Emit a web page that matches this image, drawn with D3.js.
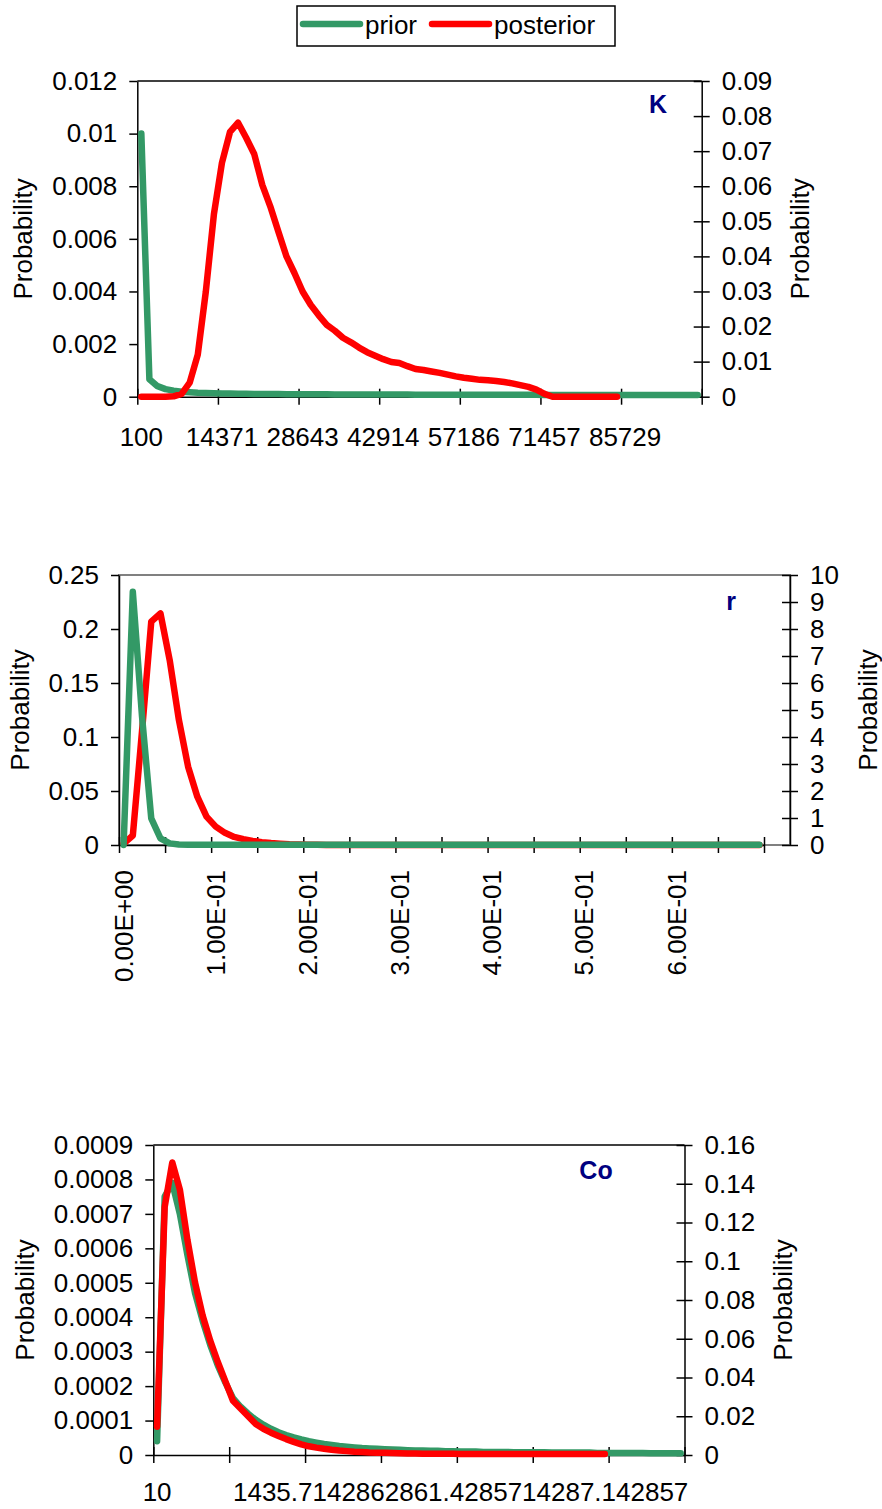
<!DOCTYPE html>
<html>
<head>
<meta charset="utf-8">
<script src="https://cdn.jsdelivr.net/npm/d3@7"></script>
<style>
  body { margin: 0; background: #fff; }
  svg { display: block; font-family: "Liberation Sans", Arial, sans-serif; }
</style>
</head>
<body>
<svg></svg>
<script>
// 70 categories per chart, ticks every 10
var nCats = 70;

// K panel
var kLabels = ['100', '14371', '28643', '42914', '57186', '71457', '85729'];
var kLeftTicks = [0, 0.002, 0.004, 0.006, 0.008, 0.01, 0.012];
var kRightTicks = [0, 0.01, 0.02, 0.03, 0.04, 0.05, 0.06, 0.07, 0.08, 0.09];
var kPrior = [
  0.0100, 0.00066, 0.00040, 0.00029, 0.00023, 0.00019, 0.00017, 0.00015, 0.00014, 0.00013,
  0.00012, 0.00012, 0.00011, 0.00011, 0.00010, 0.00010, 0.00010, 0.00010, 0.00009, 0.00009,
  0.00009, 0.00009, 0.00009, 0.00009, 0.00008, 0.00008, 0.00008, 0.00008, 0.00008, 0.00008,
  0.00008, 0.00008, 0.00008, 0.00008, 0.00007, 0.00007, 0.00007, 0.00007, 0.00007, 0.00007,
  0.00007, 0.00007, 0.00007, 0.00007, 0.00007, 0.00007, 0.00007, 0.00007, 0.00007, 0.00007,
  0.00006, 0.00006, 0.00006, 0.00006, 0.00006, 0.00006, 0.00006, 0.00006, 0.00006, 0.00006,
  0.00006, 0.00006, 0.00006, 0.00006, 0.00006, 0.00006, 0.00006, 0.00006, 0.00006, 0.00006
];
var kPosterior = [
  0, 0, 0, 0, 0.0001, 0.0008, 0.0040, 0.0120, 0.0300, 0.0520,
  0.0667, 0.0755, 0.0781, 0.0738, 0.0692, 0.0604, 0.0542, 0.0470, 0.0400, 0.0352,
  0.0300, 0.0262, 0.0232, 0.0205, 0.0188, 0.0168, 0.0155, 0.0140, 0.0127, 0.0117,
  0.0107, 0.0099, 0.0096, 0.0087, 0.0079, 0.0076, 0.0072, 0.0068, 0.0063, 0.0058,
  0.0054, 0.0051, 0.0048, 0.0047, 0.0045, 0.0042, 0.0038, 0.0033, 0.0028, 0.0020,
  0.0008, 0, 0, 0, 0, 0, 0, 0, 0, 0
];

// r panel
var rLabels = ['0.00E+00', '1.00E-01', '2.00E-01', '3.00E-01', '4.00E-01', '5.00E-01', '6.00E-01'];
var rLeftTicks = [0, 0.05, 0.1, 0.15, 0.2, 0.25];
var rRightTicks = [0, 1, 2, 3, 4, 5, 6, 7, 8, 9, 10];
var rPrior = [
  0, 0.2345, 0.119, 0.0247, 0.0062, 0.0015, 0.0005, 0.0003, 0.0003, 0.0003,
  0.0003, 0.0003, 0.0003, 0.0003, 0.0003, 0.0003, 0.0003, 0.0003, 0.0003, 0.0003,
  0.0003, 0.0003, 0.0003, 0.0003, 0.0003, 0.0003, 0.0003, 0.0003, 0.0003, 0.0003,
  0.0003, 0.0003, 0.0003, 0.0003, 0.0003, 0.0003, 0.0003, 0.0003, 0.0003, 0.0003,
  0.0003, 0.0003, 0.0003, 0.0003, 0.0003, 0.0003, 0.0003, 0.0003, 0.0003, 0.0003,
  0.0003, 0.0003, 0.0003, 0.0003, 0.0003, 0.0003, 0.0003, 0.0003, 0.0003, 0.0003,
  0.0003, 0.0003, 0.0003, 0.0003, 0.0003, 0.0003, 0.0003, 0.0003, 0.0003, 0.0003
];
var rPosterior = [
  0.05, 0.35, 4.22, 8.27, 8.58, 6.85, 4.63, 2.90, 1.79, 1.05,
  0.68, 0.45, 0.30, 0.22, 0.15, 0.10, 0.07, 0.05, 0.03, 0.02,
  0.01, 0.01, 0, 0, 0, 0, 0, 0, 0, 0,
  0, 0, 0, 0, 0, 0, 0, 0, 0, 0,
  0, 0, 0, 0, 0, 0, 0, 0, 0, 0,
  0, 0, 0, 0, 0, 0, 0, 0, 0, 0,
  0, 0, 0, 0, 0, 0, 0, 0, 0, 0
];

// Co panel
var coLabels = ['10', '1435.714286', '2861.428571', '4287.142857'];
var coLeftTicks = [0, 0.0001, 0.0002, 0.0003, 0.0004, 0.0005, 0.0006, 0.0007, 0.0008, 0.0009];
var coRightTicks = [0, 0.02, 0.04, 0.06, 0.08, 0.1, 0.12, 0.14, 0.16];
var coPrior = [
  0.00004, 0.00075, 0.00079, 0.00070, 0.00058, 0.00047, 0.00039, 0.00032, 0.00026, 0.00021,
  0.000165, 0.000140, 0.000120, 0.000102, 0.000088, 0.000076, 0.000066, 0.000058, 0.000051, 0.000045,
  0.000040, 0.000036, 0.000032, 0.000029, 0.000026, 0.000024, 0.000022, 0.000020, 0.000019, 0.000018,
  0.000017, 0.000016, 0.000015, 0.000014, 0.000013, 0.000013, 0.000012, 0.000012, 0.000011, 0.000011,
  0.000010, 0.000010, 0.000010, 0.000009, 0.000009, 0.000009, 0.000009, 0.000008, 0.000008, 0.000008,
  0.000008, 0.000008, 0.000007, 0.000007, 0.000007, 0.000007, 0.000007, 0.000007, 0.000006, 0.000006,
  0.000006, 0.000006, 0.000006, 0.000006, 0.000006, 0.000005, 0.000005, 0.000005, 0.000005, 0.000005
];
var coPosterior = [
  0.0146, 0.128, 0.151, 0.137, 0.111, 0.089, 0.072, 0.059, 0.048, 0.038,
  0.028, 0.024, 0.020, 0.016, 0.0135, 0.0115, 0.0098, 0.0082, 0.0068, 0.0055,
  0.0045, 0.0038, 0.0032, 0.0027, 0.0023, 0.0020, 0.0017, 0.0015, 0.0013, 0.0012,
  0.0011, 0.0010, 0.0009, 0.0008, 0.0008, 0.0007, 0.0007, 0.0006, 0.0006, 0.0006,
  0.0005, 0.0005, 0.0005, 0.0005, 0.0005, 0.0005, 0.0005, 0.0005, 0.0005, 0.0005,
  0.0005, 0.0005, 0.0005, 0.0005, 0.0005, 0.0005, 0.0005, 0.0005, 0.0005, 0.0005
];

var green = '#339966';
var red = '#ff0000';
var navy = '#000080';
var fontSize = 26;

var svg = d3.select('svg')
    .attr('width', 882)
    .attr('height', 1509);

function styleAxis(ax) {
  ax.attr('font-size', fontSize).attr('font-family', null);
  ax.selectAll('text').attr('fill', '#000');
  ax.selectAll('line').attr('stroke', '#000').attr('stroke-width', 1.5);
  ax.selectAll('.domain').attr('stroke', '#000').attr('stroke-width', 1.5);
}

function drawPanel(p) {
  var g = svg.append('g');

  var xBand = d3.scaleBand().domain(d3.range(nCats)).range([p.x0, p.x1]);
  var xPos = i => xBand(i) + xBand.bandwidth() / 2;
  var xTick = d3.scaleLinear().domain([0, nCats]).range([p.x0, p.x1]);
  var yL = d3.scaleLinear().domain([0, d3.max(p.leftTicks)]).range([p.yBot, p.yTop]);
  var yR = d3.scaleLinear().domain([0, d3.max(p.rightTicks)]).range([p.yBot, p.yTop]);

  // plot area border
  if (p.frame) {
    g.append('rect')
      .attr('x', p.x0).attr('y', p.yTop)
      .attr('width', p.xR - p.x0).attr('height', p.yBot - p.yTop)
      .attr('fill', 'none').attr('stroke', p.frame).attr('stroke-width', 2);
  } else {
    g.append('line')
      .attr('x1', p.x0).attr('x2', p.xR)
      .attr('y1', p.yTop).attr('y2', p.yTop)
      .attr('stroke', '#000').attr('stroke-width', 1.5);
  }

  // left axis
  var la = g.append('g')
      .attr('transform', `translate(${p.x0},0)`)
      .call(d3.axisLeft(yL).tickValues(p.leftTicks).tickSizeInner(8).tickSizeOuter(0)
        .tickPadding(12).tickFormat(d => String(d)));
  styleAxis(la);

  // right axis, ticks cross the line
  var ra = g.append('g')
      .attr('transform', `translate(${p.xR},0)`)
      .call(d3.axisRight(yR).tickValues(p.rightTicks).tickSizeInner(8).tickSizeOuter(0)
        .tickPadding(12).tickFormat(d => String(d)));
  ra.selectAll('.tick line').attr('x1', -8);
  styleAxis(ra);

  // category axis: tick marks between categories
  var ba = g.append('g')
      .attr('transform', `translate(0,${p.yBot})`)
      .call(d3.axisBottom(xTick).tickValues(d3.range(0, nCats + 1, p.tickEvery))
        .tickSizeInner(8).tickSizeOuter(0).tickFormat(''));
  ba.selectAll('.tick line').attr('y1', -8);
  styleAxis(ba);

  // category labels
  var labelIdx = p.labels.map((d, i) => i * p.labelEvery);
  var lb = g.append('g')
      .attr('transform', `translate(0,${p.yBot})`)
      .call(d3.axisBottom(xBand).tickValues(labelIdx).tickSize(0)
        .tickPadding(p.labelPad).tickFormat((d, i) => p.labels[i]));
  lb.select('.domain').remove();
  styleAxis(lb);
  if (p.rotate) {
    lb.selectAll('text')
      .attr('y', 0).attr('x', -p.labelPad)
      .attr('dy', '0.35em')
      .attr('transform', 'rotate(-90)')
      .attr('text-anchor', 'end');
  }

  // series
  p.series.forEach(function(s) {
    var y = s.axis === 'left' ? yL : yR;
    g.append('path')
      .datum(s.values)
      .attr('d', d3.line().x((d, i) => xPos(i)).y(d => y(d)))
      .attr('fill', 'none')
      .attr('stroke', s.color)
      .attr('stroke-width', 6.5)
      .attr('stroke-linejoin', 'round')
      .attr('stroke-linecap', 'round');
  });

  // axis titles
  var yc = (p.yTop + p.yBot) / 2;
  [p.leftTitleX, p.rightTitleX].forEach(function(x) {
    g.append('text')
      .attr('transform', `translate(${x},${yc}) rotate(-90)`)
      .attr('text-anchor', 'middle')
      .attr('dy', '0.35em')
      .attr('font-size', fontSize)
      .text('Probability');
  });

  g.append('text')
    .attr('x', p.nameX).attr('y', p.nameY)
    .attr('text-anchor', 'middle')
    .attr('font-size', 25)
    .attr('font-weight', 'bold')
    .attr('fill', navy)
    .text(p.name);
}

drawPanel({
  x0: 137.3, x1: 701.7, xR: 701.7, yTop: 81, yBot: 396.7,
  leftTicks: kLeftTicks, rightTicks: kRightTicks,
  labels: kLabels, labelEvery: 10, tickEvery: 10, labelPad: 31,
  leftTitleX: 23, rightTitleX: 800,
  name: 'K', nameX: 658, nameY: 113,
  series: [
    { values: kPrior, axis: 'left', color: green },
    { values: kPosterior, axis: 'right', color: red }
  ]
});

drawPanel({
  x0: 119, x1: 764, xR: 790, yTop: 575, yBot: 845, frame: '#808080',
  leftTicks: rLeftTicks, rightTicks: rRightTicks,
  labels: rLabels, labelEvery: 10, tickEvery: 5, labelPad: 25, rotate: true,
  leftTitleX: 20, rightTitleX: 868,
  name: 'r', nameX: 731, nameY: 610,
  series: [
    { values: rPosterior, axis: 'right', color: red },
    { values: rPrior, axis: 'left', color: green }
  ]
});

drawPanel({
  x0: 153.3, x1: 684.5, xR: 684.5, yTop: 1145, yBot: 1455,
  leftTicks: coLeftTicks, rightTicks: coRightTicks,
  labels: coLabels, labelEvery: 20, tickEvery: 10, labelPad: 28,
  leftTitleX: 25, rightTitleX: 783,
  name: 'Co', nameX: 596, nameY: 1179,
  series: [
    { values: coPrior, axis: 'left', color: green },
    { values: coPosterior, axis: 'right', color: red }
  ]
});

// legend
var legend = svg.append('g');
legend.append('rect')
  .attr('x', 297).attr('y', 6).attr('width', 318).attr('height', 40)
  .attr('fill', '#fff').attr('stroke', '#000').attr('stroke-width', 1.5);
var legendItems = [
  { name: 'prior', color: green, x: 303 },
  { name: 'posterior', color: red, x: 432 }
];
legendItems.forEach(function(d) {
  legend.append('line')
    .attr('x1', d.x).attr('x2', d.x + 57)
    .attr('y1', 24).attr('y2', 24)
    .attr('stroke', d.color).attr('stroke-width', 6.5)
    .attr('stroke-linecap', 'round');
  legend.append('text')
    .attr('x', d.x + 62).attr('y', 34)
    .attr('font-size', fontSize)
    .text(d.name);
});
</script>
</body>
</html>
